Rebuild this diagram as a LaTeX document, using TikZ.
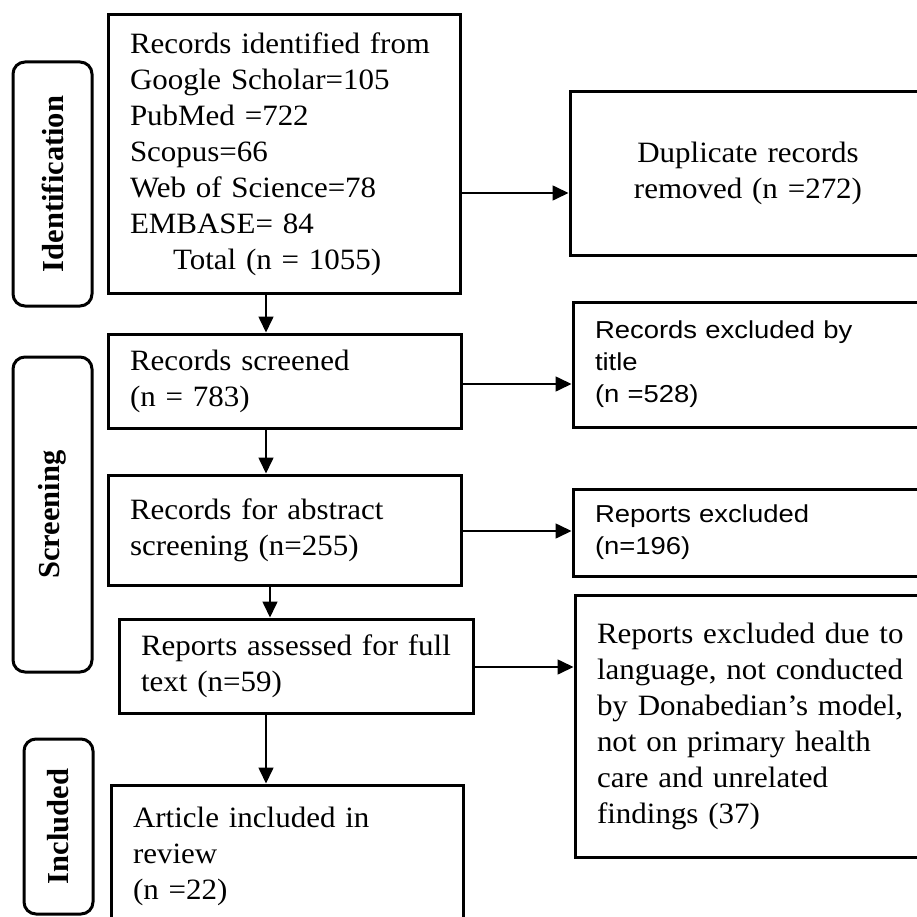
\documentclass[tikz,border=0pt]{standalone}
\usepackage{fontspec}
\setmainfont{Liberation Serif}[FakeStretch=1.05]
\newfontfamily\arialf{Liberation Sans}[FakeStretch=1.12]
\newfontfamily\lblfont{Liberation Serif}
\usetikzlibrary{arrows.meta}
\tikzset{
  tbox/.style={draw, line width=3pt, inner xsep=22pt, inner ysep=0pt, align=left,
    font=\fontsize{29.5}{36}\selectfont},
  abox/.style={tbox, font=\arialf\fontsize{24.5}{32}\selectfont},
  pill/.style={draw, line width=3pt, rounded corners=12pt, rotate=90, inner sep=0pt,
    font=\lblfont\bfseries\fontsize{30.5}{32}\selectfont},
  arr/.style={-{Triangle[length=16pt,width=15pt]}, line width=1.6pt}
}
\begin{document}
\begin{tikzpicture}[x=1pt,y=-1pt]
\useasboundingbox (0,0) rectangle (917,917);
% left column
\node[tbox, minimum width=352pt, minimum height=278pt, text width=308pt] (b1) at (284,154)
 {Records identified from\\Google Scholar=105\\PubMed =722\\Scopus=66\\Web of Science=78\\EMBASE= 84\\\hspace*{43pt}Total (n = 1055)};
\node[tbox, minimum width=353pt, minimum height=94pt, text width=309pt] (b2) at (284.5,381)
 {Records screened\\(n = 783)};
\node[tbox, minimum width=353pt, minimum height=110pt, text width=309pt] (b3) at (284.5,530)
 {Records for abstract\\screening (n=255)};
\node[tbox, minimum width=354pt, minimum height=94pt, text width=310pt] (b4) at (296,666)
 {Reports assessed for full\\text (n=59)};
\node[tbox, minimum width=352pt, minimum height=143pt, text width=308pt] (b5) at (287,856.5)
 {Article included in\\review\\(n =22)};
% right column
\node[tbox, align=center, minimum width=356pt, minimum height=163pt, text width=312pt] (dup) at (748,173.5)
 {Duplicate records\\removed (n =272)};
\node[abox, minimum width=353pt, minimum height=125pt, text width=309pt] (ex1) at (749.5,364.5)
 {Records excluded by\\title\\(n =528)};
\node[abox, minimum width=353pt, minimum height=87pt, text width=309pt] (ex2) at (749.5,532.5)
 {Reports excluded\\(n=196)};
\node[tbox, minimum width=351pt, minimum height=262pt, text width=307pt] (ex3) at (750.5,726)
 {Reports excluded due to\\language, not conducted\\by Donabedian’s model,\\not on primary health\\care and unrelated\\findings (37)};
% stage labels
\node[pill, minimum width=244pt, minimum height=79pt] (pid) at (52.5,184) {Identification};
\node[pill, minimum width=315pt, minimum height=79pt] (pscr) at (52.5,514.5) {Screening};
\node[pill, minimum width=175pt, minimum height=69pt] (pinc) at (58.5,826.5) {Included};
% arrow guide coordinates
\coordinate (v1) at (266,0);
\coordinate (v2) at (270,0);
\coordinate (h1) at (0,193);
\coordinate (h2) at (0,384);
\coordinate (h3) at (0,531);
\coordinate (h4) at (0,667);
% vertical arrows
\draw[arr] (v1 |- b1.south) -- (v1 |- b2.north);
\draw[arr] (v1 |- b2.south) -- (v1 |- b3.north);
\draw[arr] (v2 |- b3.south) -- (v2 |- b4.north);
\draw[arr] (v1 |- b4.south) -- (v1 |- b5.north);
% horizontal arrows
\draw[arr] (b1.east |- h1) -- (dup.west |- h1);
\draw[arr] (b2.east |- h2) -- (ex1.west |- h2);
\draw[arr] (b3.east |- h3) -- (ex2.west |- h3);
\draw[arr] (b4.east |- h4) -- (ex3.west |- h4);
\end{tikzpicture}
\end{document}
